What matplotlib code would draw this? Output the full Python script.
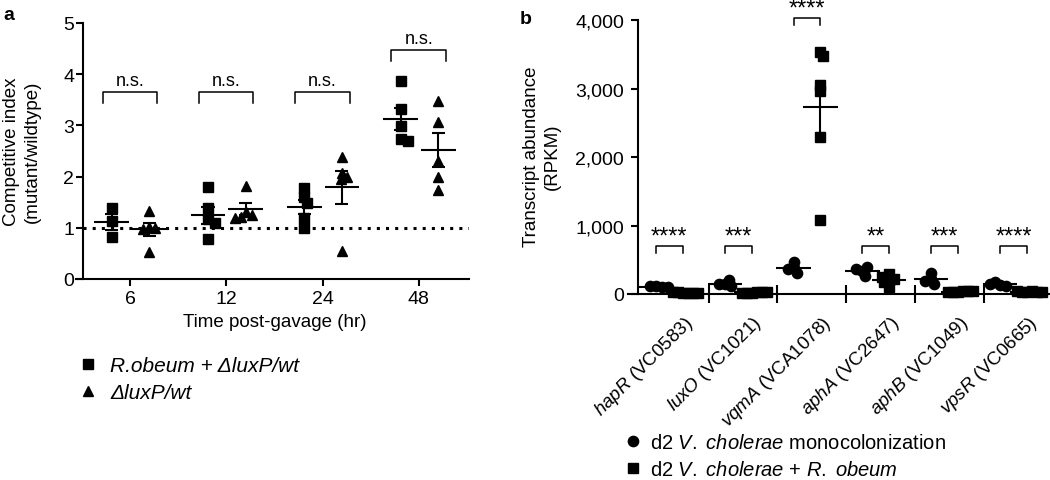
import numpy as np
import matplotlib
matplotlib.use('Agg')
import matplotlib.pyplot as plt
from matplotlib.lines import Line2D
from matplotlib.ticker import FuncFormatter

plt.rcParams['font.family'] = ['Liberation Sans', 'DejaVu Sans']
plt.rcParams['mathtext.fontset'] = 'custom'
plt.rcParams['mathtext.rm'] = 'Liberation Sans'
plt.rcParams['mathtext.it'] = 'Liberation Sans:italic'
plt.rcParams['mathtext.bf'] = 'Liberation Sans:bold'

# ---------------- data: panel a ----------------
timepoints = ['6', '12', '24', '48']
robeum_luxP = [[1.38, 1.14, 0.83],
               [1.80, 1.38, 1.17, 1.10, 0.79],
               [1.77, 1.61, 1.48, 1.20, 0.99],
               [3.87, 3.32, 2.99, 2.73, 2.70]]
luxP_only = [[1.33, 1.02, 1.00, 0.98, 0.52],
             [1.82, 1.30, 1.25, 1.22, 1.20],
             [2.38, 2.08, 2.00, 1.95, 0.55],
             [3.48, 3.07, 2.31, 1.99, 1.74]]
sig_a = ['n.s.', 'n.s.', 'n.s.', 'n.s.']

# ---------------- data: panel b ----------------
genes = ['hapR', 'luxO', 'vqmA', 'aphA', 'aphB', 'vpsR']
loci = ['VC0583', 'VC1021', 'VCA1078', 'VC2647', 'VC1049', 'VC0665']
mono = [[115, 100, 110, 105],
        [140, 110, 200, 150],
        [385, 312, 472, 360],
        [340, 270, 390, 360],
        [220, 150, 310, 190],
        [130, 120, 175, 140]]
with_robeum = [[20, 15, 25, 10, 30, 20],
               [20, 25, 15, 30, 20, 25],
               [3533, 3474, 3060, 2963, 2292, 1075],
               [290, 200, 220, 100, 180, 250],
               [30, 40, 35, 45, 25, 40],
               [30, 40, 25, 35, 45, 30]]
sig_b = ['****', '***', '****', '**', '***', '****']

# ---------------- layout ----------------
W, H = 1050, 481
fig = plt.figure(figsize=(W / 100, H / 100), dpi=100)

def px_rect(x0, y_top, x1, y_bot):
    return [x0 / W, 1 - y_bot / H, (x1 - x0) / W, (y_bot - y_top) / H]

LW = 1.5
TICK_FS = 14
LABEL_FS = 13.5

def mean_sem(ax, x0, vals, hw, cap):
    v = np.asarray(vals, float)
    m = v.mean()
    s = v.std(ddof=1) / np.sqrt(len(v))
    kw = dict(color='black', lw=LW, solid_capstyle='butt', zorder=5, clip_on=False)
    ax.plot([x0 - hw, x0 + hw], [m, m], **kw)
    ax.plot([x0, x0], [m - s, m + s], **kw)
    ax.plot([x0 - cap, x0 + cap], [m + s, m + s], **kw)
    ax.plot([x0 - cap, x0 + cap], [m - s, m - s], **kw)

def swarm(ax, x0, vals, dist_px, step_px=1.0):
    T = ax.transData
    inv = T.inverted()
    x0px = T.transform((x0, 0))[0]
    placed = []
    xs = [0.0] * len(vals)
    for idx in range(len(vals)):
        ypx = T.transform((x0, vals[idx]))[1]
        k = 0
        found = None
        while found is None:
            cands = [0.0] if k == 0 else [k * step_px, -k * step_px]
            for c in cands:
                if all((x0px + c - px) ** 2 + (ypx - py) ** 2 >= dist_px ** 2 for px, py in placed):
                    found = c
                    break
            k += 1
        placed.append((x0px + found, ypx))
        xs[idx] = inv.transform((x0px + found, ypx))[0]
    return xs

# ================= panel a =================
axa = fig.add_axes(px_rect(76, 24, 469, 280))
axa.set_xlim(-0.561, 3.52)
axa.set_ylim(0, 5)
for sp in ['top', 'right']:
    axa.spines[sp].set_visible(False)
axa.spines['left'].set_position(('data', -0.488))
for sp in ['left', 'bottom']:
    axa.spines[sp].set_linewidth(LW)
axa.set_xticks(range(len(timepoints)))
axa.set_xticklabels(timepoints)
axa.set_yticks(range(0, 6))
axa.tick_params(axis='both', width=LW, length=5, labelsize=TICK_FS)
axa.tick_params(axis='y', pad=1.5)
axa.tick_params(axis='x', pad=3)

axa.axhline(1, xmin=(-0.488 + 0.561) / (3.52 + 0.561), xmax=1, color='black',
            lw=2.2, linestyle=(0, (1, 2.0)), zorder=1)

off_sq, off_tri = -0.19, 0.20
for i in range(len(timepoints)):
    xs = swarm(axa, i + off_sq, robeum_luxP[i], 7.0)
    axa.plot(xs, robeum_luxP[i], 's', color='black', ms=6.5, ls='none', zorder=3, clip_on=False)
    mean_sem(axa, i + off_sq, robeum_luxP[i], 0.18, 0.068)
    xs = swarm(axa, i + off_tri, luxP_only[i], 6.0)
    axa.plot(xs, luxP_only[i], '^', color='black', ms=7.3, ls='none', zorder=3, clip_on=False)
    mean_sem(axa, i + off_tri, luxP_only[i], 0.18, 0.068)

bracket_a_y = [3.44, 3.44, 3.44, 4.26]
for i, lab in enumerate(sig_a):
    y0 = bracket_a_y[i]
    y1 = y0 + 0.21
    axa.plot([i - 0.285, i - 0.285, i + 0.28, i + 0.28], [y0, y1, y1, y0],
             color='black', lw=1.1, clip_on=False)
    axa.annotate(lab, (i, y1), xytext=(0, 4.8), textcoords='offset points',
                 ha='center', va='baseline', fontsize=13, annotation_clip=False)

fig.text(22 / W, 1 - 152 / H, 'Competitive index\n(mutant/wildtype)', rotation=90,
         ha='center', va='center', multialignment='center', fontsize=LABEL_FS, linespacing=1.25)
fig.text(275 / W, 1 - 323 / H, 'Time post-gavage (hr)', ha='center', va='center', fontsize=LABEL_FS)

leg_a = [Line2D([], [], marker='s', color='black', ls='none', ms=6.5),
         Line2D([], [], marker='^', color='black', ls='none', ms=7.3)]
la = fig.legend(leg_a, ['R.obeum + \u0394luxP/wt', '\u0394luxP/wt'],
                loc='upper left', bbox_to_anchor=(79 / W, 1 - 357 / H),
                frameon=False, handlelength=0.9, handletextpad=0.6, labelspacing=0.4,
                borderpad=0, borderaxespad=0, prop={'size': 15, 'style': 'italic'})

fig.text(3 / W, 1 - 16 / H, 'a', fontsize=14, fontweight='bold', ha='left', va='center')

# ================= panel b =================
axb = fig.add_axes(px_rect(628, 21.3, 1050, 295))
axb.set_xlim(-0.60, 5.53)
axb.set_ylim(0, 4000)
for sp in ['top', 'right']:
    axb.spines[sp].set_visible(False)
axb.spines['left'].set_position(('data', -0.458))
for sp in ['left', 'bottom']:
    axb.spines[sp].set_linewidth(LW)
axb.set_yticks([0, 1000, 2000, 3000, 4000])
axb.yaxis.set_major_formatter(FuncFormatter(lambda v, p: f'{int(v):,}'))
axb.tick_params(axis='y', width=LW, length=5, labelsize=TICK_FS, pad=5)
ng = len(genes)
axb.set_xticks([i + 0.57 for i in range(ng - 1)])
axb.set_xticklabels([])
axb.tick_params(axis='x', which='major', direction='inout', length=13, width=LW)
axb.set_xticks([i + 0.2 for i in range(ng)], minor=True)
axb.set_xticklabels([rf'$\mathit{{{g}}}$ ({l})' for g, l in zip(genes, loci)], minor=True,
                    rotation=45, ha='right', rotation_mode='anchor', fontsize=13.5)
axb.tick_params(axis='x', which='minor', length=0, pad=13)

off_c, off_s = -0.195, 0.195
for i in range(ng):
    xs = swarm(axb, i + off_c, mono[i], 5.5)
    axb.plot(xs, mono[i], 'o', color='black', ms=7.4, ls='none', zorder=3, clip_on=False)
    mean_sem(axb, i + off_c, mono[i], 0.25, 0.062)
    xs = swarm(axb, i + off_s, with_robeum[i], 5.0)
    axb.plot(xs, with_robeum[i], 's', color='black', ms=7.2, ls='none', zorder=3, clip_on=False)
    mean_sem(axb, i + off_s, with_robeum[i], 0.25, 0.062)

bracket_b_y = [600, 600, 3933, 600, 600, 600]
for i, lab in enumerate(sig_b):
    y0 = bracket_b_y[i]
    y1 = y0 + 105
    axb.plot([i + off_c, i + off_c, i + off_s, i + off_s], [y0, y1, y1, y0],
             color='black', lw=1.1, clip_on=False)
    axb.annotate(lab, (i, y1), xytext=(0, 2.0), textcoords='offset points',
                 ha='center', va='baseline', fontsize=17, annotation_clip=False)

fig.text(542 / W, 1 - 157 / H, 'Transcript abundance\n(RPKM)', rotation=90,
         ha='center', va='center', multialignment='center', fontsize=LABEL_FS, linespacing=1.25)

leg_b = [Line2D([], [], marker='o', color='black', ls='none', ms=7.4),
         Line2D([], [], marker='s', color='black', ls='none', ms=7.2)]
lb = fig.legend(leg_b, [r'd2 $\mathit{V.\ cholerae}$ monocolonization',
                        r'd2 $\mathit{V.\ cholerae}$ + $\mathit{R.\ obeum}$'],
                loc='upper left', bbox_to_anchor=(624 / W, 1 - 434 / H),
                frameon=False, handlelength=0.9, handletextpad=0.4, labelspacing=0.38,
                borderpad=0, borderaxespad=0, prop={'size': 14.5})

fig.text(520 / W, 1 - 19 / H, 'b', fontsize=14, fontweight='bold', ha='left', va='center')

fig.savefig('out.png', dpi=100)
